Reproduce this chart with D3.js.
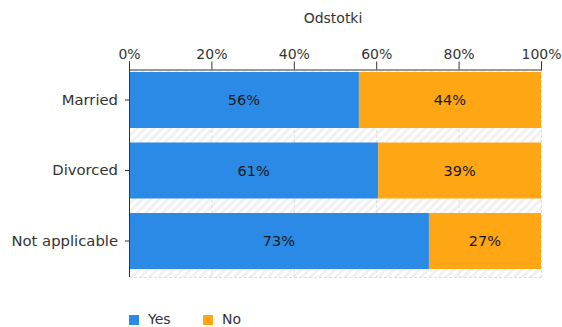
<!DOCTYPE html>
<html><head><meta charset="utf-8">
<script src="https://cdn.jsdelivr.net/npm/d3@7"></script>
<style>body{margin:0;background:#fff}svg{display:block;font-family:"DejaVu Sans",Verdana,sans-serif}</style>
</head><body>
<svg id="c" width="562" height="327"></svg>
<script>
const categories = ["Married", "Divorced", "Not applicable"];
const yesValues = [55.8, 60.5, 72.8];
const noValues = [44.2, 39.5, 27.2];
const yesLabels = ["56%", "61%", "73%"];
const noLabels = ["44%", "39%", "27%"];
const tickValues = [0, 20, 40, 60, 80, 100];
const seriesNames = ["Yes", "No"];
const colors = ["#2a8ae6", "#ffa615"];

const svg = d3.select("#c");
const m = {l:129, r:21, t:70, b:50};
const W = 562 - m.l - m.r, H = 327 - m.t - m.b;
const x = d3.scaleLinear().domain([0,100]).range([m.l, m.l+W]);
const y = d3.scaleBand().domain(categories).range([m.t, m.t+H])
  .paddingInner(0.206).paddingOuter(0.071).align(0.2);

const defs = svg.append("defs");
const pat = defs.append("pattern").attr("id","hatch").attr("patternUnits","userSpaceOnUse")
  .attr("width",6).attr("height",6).attr("patternTransform","rotate(45)");
pat.append("rect").attr("width",6).attr("height",6).attr("fill","#fff");
pat.append("rect").attr("width",3).attr("height",6).attr("fill","#f1f1f1");

svg.append("rect").attr("x",m.l).attr("y",m.t).attr("width",W).attr("height",H).attr("fill","url(#hatch)");
// grid
svg.append("g").selectAll("line").data(tickValues.slice(1)).join("line")
  .attr("x1",d=>x(d)+0.5).attr("x2",d=>x(d)+0.5).attr("y1",m.t).attr("y2",m.t+H)
  .attr("stroke","#ddd").attr("stroke-dasharray","3,2");
svg.append("line").attr("x1",m.l).attr("x2",m.l+W).attr("y1",m.t+H+0.5).attr("y2",m.t+H+0.5)
  .attr("stroke","#ddd").attr("stroke-dasharray","3,2");

// bars
const rows = categories.map((c,i)=>({c, yes:yesValues[i], no:noValues[i], yl:yesLabels[i], nl:noLabels[i]}));
const g = svg.append("g");
g.selectAll(".yes").data(rows).join("rect").attr("class","yes")
  .attr("x",x(0)).attr("y",d=>y(d.c)).attr("width",d=>x(d.yes)-x(0)).attr("height",y.bandwidth()).attr("fill",colors[0]);
g.selectAll(".no").data(rows).join("rect").attr("class","no")
  .attr("x",d=>x(d.yes)).attr("y",d=>y(d.c)).attr("width",d=>x(d.yes+d.no)-x(d.yes)).attr("height",y.bandwidth()).attr("fill",colors[1]);
g.selectAll(".yl").data(rows).join("text")
  .attr("x",d=>(x(0)+x(d.yes))/2).attr("y",d=>y(d.c)+y.bandwidth()/2).attr("dy","0.35em")
  .attr("text-anchor","middle").attr("font-size",14.5).attr("fill","#1a1a1a").text(d=>d.yl);
g.selectAll(".nl").data(rows).join("text")
  .attr("x",d=>(x(d.yes)+x(d.yes+d.no))/2).attr("y",d=>y(d.c)+y.bandwidth()/2).attr("dy","0.35em")
  .attr("text-anchor","middle").attr("font-size",14.5).attr("fill","#1a1a1a").text(d=>d.nl);

// top axis
const ax = svg.append("g").attr("transform",`translate(0,${m.t-0.5})`)
  .call(d3.axisTop(x).tickValues(tickValues).tickFormat(d=>d+"%").tickSize(8).tickSizeOuter(8).tickPadding(3));
ax.select(".domain").attr("stroke","#333");
ax.selectAll(".tick line").attr("stroke","#333");
ax.selectAll("text").attr("font-size",14).attr("fill","#333").attr("font-family","DejaVu Sans");

// left axis
const ay = svg.append("g").attr("transform",`translate(${m.l},0)`)
  .call(d3.axisLeft(y).tickSize(4).tickPadding(7));
ay.select(".domain").attr("d",`M0.5,${m.t}V${m.t+H}`).attr("stroke","#333");
ay.selectAll(".tick line").attr("stroke","#333");
ay.selectAll("text").attr("font-size",14.8).attr("fill","#333").attr("font-family","DejaVu Sans");

// title
svg.append("text").attr("x",x(50)-2).attr("y",23).attr("text-anchor","middle")
  .attr("font-size",14).attr("fill","#333").text("Odstotki");

// legend
const lg = svg.append("g").attr("transform","translate(129,315)");
const items = lg.selectAll("g").data(seriesNames).join("g").attr("transform",(d,i)=>`translate(${i*74},0)`);
items.append("rect").attr("width",10).attr("height",10).attr("fill",(d,i)=>colors[i]);
items.append("text").attr("x",19).attr("y",5).attr("dy","0.32em").attr("font-size",14).attr("fill","#333").text(d=>d);
</script>
</body></html>
